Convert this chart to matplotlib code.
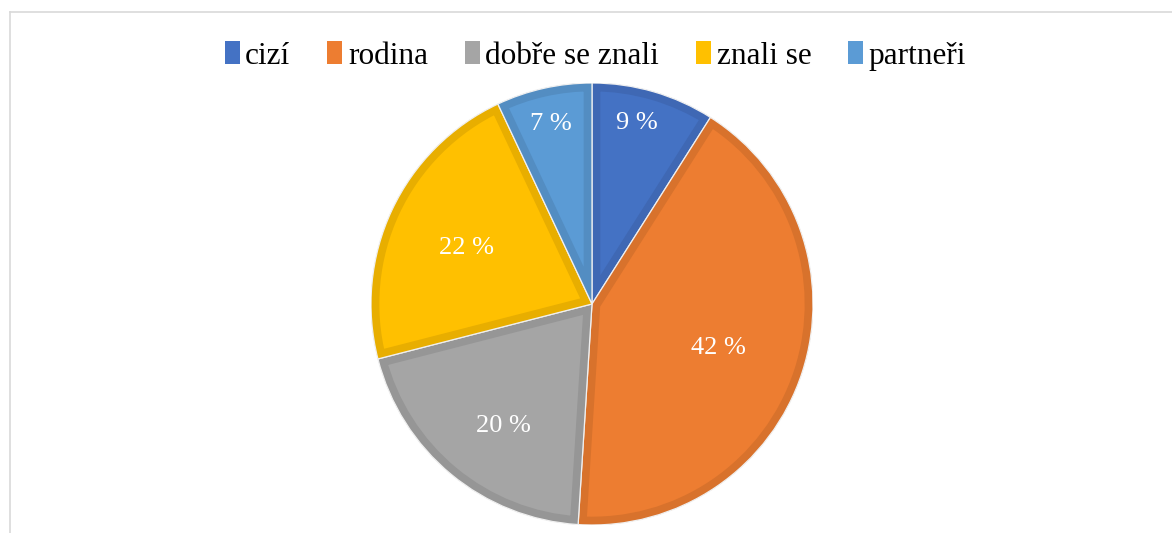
import matplotlib
matplotlib.use("Agg")
import matplotlib.pyplot as plt
from matplotlib.patches import Wedge, Patch
from matplotlib.lines import Line2D
import numpy as np

categories = ["cizí", "rodina", "dobře se znali", "znali se", "partneři"]
values = [9, 42, 20, 22, 7]
labels = ["9 %", "42 %", "20 %", "22 %", "7 %"]

colors = ["#4472C4", "#ED7D31", "#A5A5A5", "#FFC000", "#5B9BD5"]
edge_colors = ["#3F68B4", "#D8722C", "#969696", "#E8AE00", "#538DC2"]
label_dist = [0.86, 0.60, 0.67, 0.63, 0.85]
label_rot = [2.5, 0, 3, 0, 0]  # small angular nudges (degrees) of label placement

plt.rcParams['font.family'] = ['Liberation Serif', 'DejaVu Serif']

W, H = 1172, 533
fig = plt.figure(figsize=(W / 100, H / 100), dpi=100)

# frame
fig.add_artist(Line2D([10 / W, 1], [1 - 12 / H, 1 - 12 / H], color="#D9D9D9", lw=1.2))
fig.add_artist(Line2D([10 / W, 10 / W], [0, 1 - 12 / H], color="#D9D9D9", lw=1.2))

cx, cy, r = 592, 304, 221
ax = fig.add_axes([(cx - r) / W, (H - cy - r) / H, 2 * r / W, 2 * r / H])

wedges, texts = ax.pie(values, colors=colors, startangle=90, counterclock=False,
                       radius=1, labels=labels, labeldistance=0.7,
                       wedgeprops=dict(linewidth=0))
ax.set_xlim(-1, 1)
ax.set_ylim(-1, 1)
ax.set_aspect("equal")
ax.axis("off")

for w, ec, t, d, rot in zip(wedges, edge_colors, texts, label_dist, label_rot):
    border = Wedge(w.center, w.r, w.theta1, w.theta2, facecolor="none",
                   edgecolor=ec, linewidth=12)
    ax.add_patch(border)
    border.set_clip_path(w)
    sep = Wedge(w.center, w.r, w.theta1, w.theta2, facecolor="none",
                edgecolor="#F0F0F0", linewidth=0.9)
    ax.add_patch(sep)
    mid = np.deg2rad((w.theta1 + w.theta2) / 2 + rot)
    t.set_position((d * np.cos(mid), d * np.sin(mid) - 0.015))
    t.set_color("white")
    t.set_fontsize(19)
    t.set_ha("center")
    t.set_va("center")

handles = [Patch(facecolor=c, edgecolor="none") for c in colors]
fig.legend(handles, categories, loc="center", bbox_to_anchor=(0.508, 1 - 56 / H),
           ncol=5, frameon=False, fontsize=22.5, handlelength=0.48, handleheight=0.75,
           handletextpad=0.18, columnspacing=1.18)

fig.savefig("out.png", dpi=100, facecolor="white")
